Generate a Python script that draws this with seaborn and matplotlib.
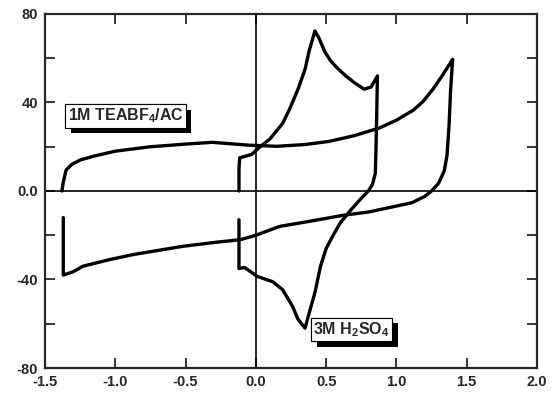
import pandas as pd
import matplotlib
matplotlib.use('Agg')
import matplotlib.pyplot as plt
import matplotlib.patheffects as pe
import seaborn as sns

# Dados (potencial em V, corrente)
teabf4_v = [-1.37, -1.37, -1.30, -1.23, -1.04, -0.87, -0.52, -0.30, -0.11, 0.0, 0.17,
            0.40, 0.62, 0.80, 0.95, 1.11, 1.20, 1.25, 1.30, 1.34, 1.36, 1.375, 1.385, 1.40,
            1.33, 1.26, 1.19, 1.12, 1.0, 0.88, 0.70, 0.52, 0.35, 0.15, -0.05, -0.31,
            -0.50, -0.75, -1.0, -1.15, -1.25, -1.31, -1.35, -1.37, -1.38]
teabf4_i = [-12, -38, -36.5, -34, -31, -28.7, -25, -23.3, -22, -20, -16,
            -13.5, -11, -9.5, -7.5, -5.3, -2.5, 0, 3.5, 9, 16, 30, 45, 59.5,
            52.5, 46, 40.5, 36.5, 32, 28.5, 25, 22.4, 21, 20.2, 20.7, 22,
            21.2, 20, 18, 15.8, 14, 12, 9.5, 4, 0]

h2so4_v = [-0.12, -0.12, -0.115, -0.03, 0.03, 0.10, 0.19, 0.24, 0.30, 0.35, 0.38, 0.42,
           0.45, 0.49, 0.53, 0.58, 0.64, 0.70, 0.77, 0.82, 0.865, 0.86, 0.855, 0.85, 0.83,
           0.80, 0.74, 0.67, 0.60, 0.55, 0.50, 0.46, 0.42, 0.38, 0.35, 0.30, 0.26, 0.19, 0.12,
           0.01, -0.08, -0.12, -0.12]
h2so4_i = [0, 10, 15, 16.5, 20, 23.5, 30.5, 37, 46, 55, 63.5, 72.3,
           69, 63, 59, 55.5, 52, 49, 46, 47, 52, 35, 20, 8, 3,
           0, -4, -9, -14.5, -20, -26, -34, -46, -55, -62, -58, -52, -44.6, -41,
           -38.6, -34.6, -35, -13]

x_ticks = [-1.5, -1.0, -0.5, 0.0, 0.5, 1.0, 1.5, 2.0]
y_ticks = [-80, -60, -40, -20, 0, 20, 40, 60, 80]
y_labels = ['-80', '', '-40', '', '0.0', '', '40', '', '80']

df1 = pd.DataFrame({'V': teabf4_v, 'I': teabf4_i})
df2 = pd.DataFrame({'V': h2so4_v, 'I': h2so4_i})

sns.set_style('ticks')
plt.rcParams['font.family'] = ['Liberation Sans', 'DejaVu Sans']
plt.rcParams['font.weight'] = 'bold'
plt.rcParams['mathtext.fontset'] = 'custom'
plt.rcParams['mathtext.bf'] = 'Liberation Sans:bold'
plt.rcParams['mathtext.rm'] = 'Liberation Sans:bold'
plt.rcParams['mathtext.default'] = 'bf'

fig = plt.figure(figsize=(5.53, 3.96), dpi=100)
ax = fig.add_axes([0.0814, 0.0707, 0.8896, 0.894])

ax.axhline(0, color='black', lw=1.2, zorder=1)
ax.axvline(0, color='black', lw=1.2, zorder=1)

sns.lineplot(data=df1, x='V', y='I', sort=False, estimator=None, color='black', lw=2.4, ax=ax)
sns.lineplot(data=df2, x='V', y='I', sort=False, estimator=None, color='black', lw=2.4, ax=ax)

ax.set_xlim(-1.5, 2.0)
ax.set_ylim(-80, 80)
ax.set_xticks(x_ticks)
ax.set_xticklabels(['-1.5', '-1.0', '-0.5', '0.0', '0.5', '1.0', '1.5', '2.0'])
ax.set_yticks(y_ticks)
ax.set_yticklabels(y_labels)
ax.tick_params(direction='in', length=7, width=1.3, top=True, right=True,
               labelsize=10.5, pad=5)
ax.set_xlabel('')
ax.set_ylabel('')
for s in ax.spines.values():
    s.set_linewidth(1.6)

sombra = [pe.withSimplePatchShadow(offset=(4, -4), shadow_rgbFace='black', alpha=1.0), pe.Normal()]

t1 = ax.text(-1.34, 34, r'1M TEABF$_4$/AC', fontsize=11.5, fontweight='bold', va='center', ha='left',
             bbox=dict(boxstyle='square,pad=0.15', fc='white', ec='black', lw=0.8), zorder=5)
t1.get_bbox_patch().set_path_effects(sombra)

t2 = ax.text(0.41, -62.5, r'3M H$_2$SO$_4$', fontsize=11.5, fontweight='bold', va='center', ha='left',
             bbox=dict(boxstyle='square,pad=0.15', fc='white', ec='black', lw=0.8), zorder=5)
t2.get_bbox_patch().set_path_effects(sombra)

plt.savefig('out.png', dpi=100)
